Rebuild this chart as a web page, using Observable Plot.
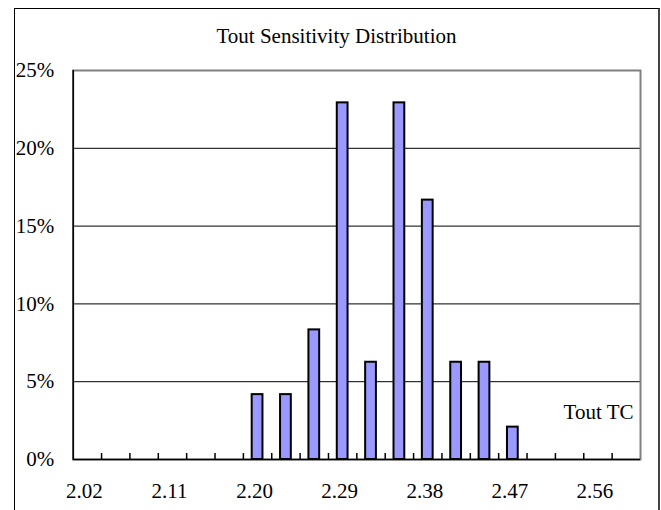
<!DOCTYPE html>
<html>
<head>
<meta charset="utf-8">
<script src="https://cdn.jsdelivr.net/npm/d3@7"></script>
<script src="https://cdn.jsdelivr.net/npm/@observablehq/plot@0.6"></script>
<style>
  html, body { margin: 0; padding: 0; background: #fff; }
  #wrap { position: relative; width: 661px; height: 510px; overflow: hidden; background: #fff; }
  #outer { position: absolute; left: 14px; top: 8px; width: 643px; height: 540px;
           border-left: 1px solid #000; border-top: 1px solid #000; border-right: 2px solid #444; }
  #title { position: absolute; left: 14px; width: 645px; top: 26px; text-align: center;
           font-family: "Liberation Serif", serif; font-size: 21px; line-height: 21px; color: #000; }
  #chart { position: absolute; left: 0; top: 0; }
</style>
</head>
<body>
<div id="wrap">
  <div id="outer"></div>
  <div id="title">Tout Sensitivity Distribution</div>
  <div id="chart"></div>
</div>
<script>
// Category centres of the histogram (bin width 0.03)
const categories = [2.02, 2.05, 2.08, 2.11, 2.14, 2.17, 2.20, 2.23, 2.26, 2.29,
                    2.32, 2.35, 2.38, 2.41, 2.44, 2.47, 2.50, 2.53, 2.56, 2.59];
const binWidth = 0.03;
// Non-empty bins and their share (%)
const binValues = [2.20, 2.23, 2.26, 2.29, 2.32, 2.35, 2.38, 2.41, 2.44, 2.47];
const percents  = [4.17, 4.17, 8.33, 22.92, 6.25, 22.92, 16.67, 6.25, 6.25, 2.08];
// Axis tick labels
const xTickLabels = [2.02, 2.11, 2.20, 2.29, 2.38, 2.47, 2.56];
const yTicks = [0, 5, 10, 15, 20, 25];
const gridLines = [5, 10, 15, 20];
const seriesLabel = "Tout TC";

const data = binValues.map((v, i) => ({v, p: percents[i]}));
const xDomain = [categories[0] - binWidth / 2, categories[categories.length - 1] + binWidth / 2];
const boundaries = categories.slice(1).map(c => c - binWidth / 2);

const chart = Plot.plot({
  width: 661,
  height: 510,
  marginLeft: 72.7,
  marginRight: 21,
  marginTop: 70,
  marginBottom: 51,
  style: {fontFamily: "Liberation Serif, serif", fontSize: "21px", background: "transparent", color: "#000"},
  x: {type: "linear", domain: xDomain},
  y: {domain: [0, 25]},
  marks: [
    Plot.ruleY(gridLines, {stroke: "#000", strokeWidth: 1}),
    Plot.frame({stroke: "#808080", strokeWidth: 2}),
    Plot.rectY(data, {
      x1: d => d.v - binWidth / 2,
      x2: d => d.v + binWidth / 2,
      y: "p",
      fill: "#9999FF",
      stroke: "#000",
      strokeWidth: 2,
      insetLeft: 8.8,
      insetRight: 8.8
    }),
    Plot.ruleX(boundaries, {x: d => d, y1: 0, y2: 0, insetTop: -6, stroke: "#000", strokeWidth: 1.5}),
    Plot.ruleX([xDomain[0]], {stroke: "#000", strokeWidth: 1.5}),
    Plot.ruleY([0], {stroke: "#000", strokeWidth: 1.5}),
    Plot.axisX({ticks: xTickLabels, tickFormat: d3.format(".2f"), tickSize: 0, tickPadding: 24, dx: -3, label: null, fontSize: 21}),
    Plot.axisY({ticks: yTicks, tickFormat: d => d + "%", tickSize: 0, tickPadding: 19, label: null, fontSize: 21}),
    Plot.text([seriesLabel], {text: d => d, frameAnchor: "bottom-right", textAnchor: "end", dx: -7, dy: -41, fontSize: 21, fill: "#000"})
  ]
});
document.getElementById("chart").appendChild(chart);
</script>
</body>
</html>
